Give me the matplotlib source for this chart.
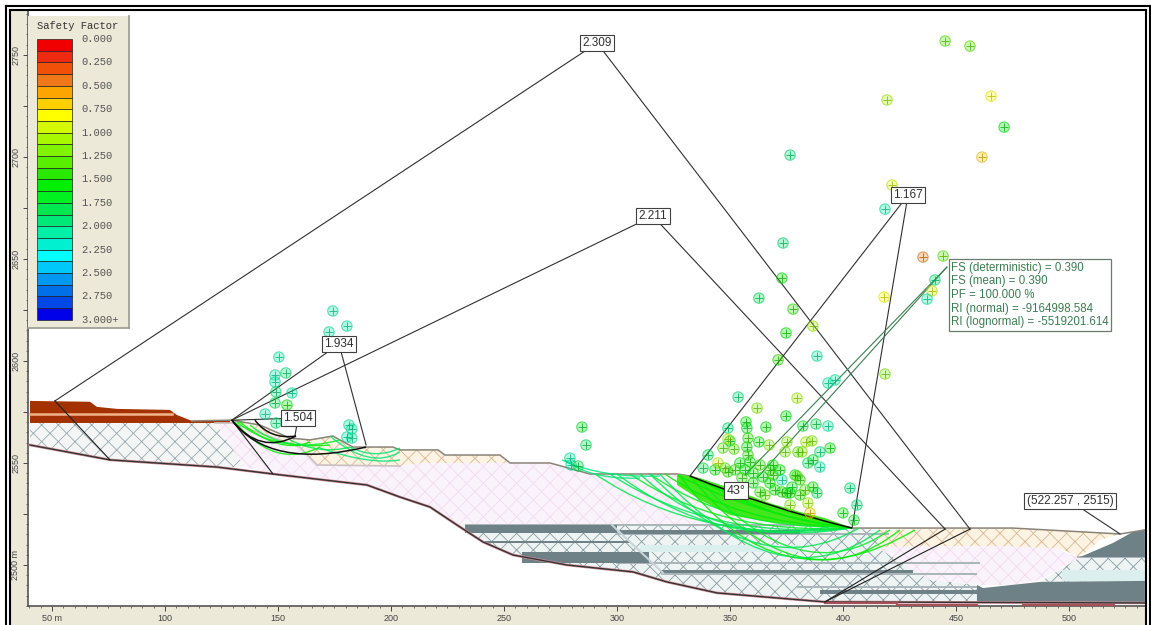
# Slope stability section: safety factor map with slip surfaces

import matplotlib
matplotlib.use("Agg")
import matplotlib.pyplot as plt
from matplotlib.colors import ListedColormap, to_rgb
from matplotlib.lines import Line2D
from matplotlib.patches import PathPatch, Rectangle
from matplotlib.path import Path
from matplotlib.ticker import FuncFormatter, MultipleLocator

plt.rcParams["font.family"] = ["Liberation Sans", "DejaVu Sans"]
plt.rcParams["hatch.linewidth"] = 0.6

# Legend
legend_title = "Safety Factor"
legend_labels = ["0.000", "0.250", "0.500", "0.750", "1.000", "1.250", "1.500",
                 "1.750", "2.000", "2.250", "2.500", "2.750", "3.000+"]
legend_colors = ["#f00000", "#ee2a10", "#f05008", "#f07818", "#fca400", "#ffd000",
                 "#ffff00", "#d4f800", "#a8f800", "#80f400", "#58f000", "#28e800",
                 "#00ee00", "#00f020", "#00e850", "#00e878", "#00f0a8", "#00f0d0",
                 "#00ffff", "#00c8f8", "#0098f0", "#0070e8", "#0048e8", "#0000e8"]

# Ground surface and base of the section
surface_x = [112, 129.6, 142, 155.3, 164.2, 174.3,
             183.2, 200.9, 204, 220.8, 223.9, 248.2, 252.7, 270.4, 288, 326.6, 332.3,
             351.3, 381, 403, 475.2, 522.6, 528.3, 533.6]
surface_y = [2570.6, 2571, 2568.6, 2562.2,
             2561.3, 2563.2, 2557.8, 2557.8, 2556.4, 2556.4, 2553.9, 2553.9, 2550, 2550,
             2544.6, 2544.6, 2543.6, 2536.8, 2522, 2518.1, 2518.1, 2515.2, 2516.2, 2517.2]
base_x = [40.3, 75.7, 123, 147.8, 189.4, 204, 217.3, 229.2, 240.7, 254, 277.9, 307.1,
          322.1, 344.3, 381, 392, 533.6]
base_y = [2558.8, 2551.5, 2548, 2544.6, 2539.2, 2533.3, 2528.4, 2519.6, 2511.3, 2504.9,
          2500, 2496.6, 2491.7, 2486.3, 2482.9, 2481.9, 2481.4]

# Material zones
brown_x = [40.3, 66.8, 69.9, 78.8, 102.2, 105.3, 112, 128.8, 128.8, 40.3]
brown_y = [2580.4, 2580, 2577.5, 2576.5, 2576, 2573.5, 2570.6, 2570.6, 2569.6, 2569.6]
grey_left_x = [40.3, 122.1, 135.4, 123, 75.7, 40.3]
grey_left_y = [2569.6, 2569.6, 2548, 2548, 2551.5, 2558.8]
pink_x = [122.1, 129.6, 159.7, 167.3, 204, 212.8, 270.4, 288, 326.6, 332.3, 351.3, 381,
          384.6, 229.2, 217.3, 204, 189.4, 147.8, 135.4]
pink_y = [2569.6, 2569.6, 2557.8, 2549, 2548.5, 2550, 2550, 2544.6, 2544.6, 2543.6,
          2536.8, 2522, 2519.6, 2519.6, 2528.4, 2533.3, 2539.2, 2544.6, 2548]
tan_left_x = [129.6, 159.7, 167.3, 204, 212.8, 252.7, 248.2, 223.9, 220.8, 204, 200.9,
              183.2, 174.3, 164.2, 155.3, 142]
tan_left_y = [2571, 2557.8, 2549, 2548.5, 2550, 2550, 2553.9, 2553.9, 2556.4, 2556.4,
              2557.8, 2557.8, 2563.2, 2561.3, 2562.2, 2568.6]
grey_mid_x = [229.2, 384.6, 403, 416.4, 415.1, 431, 438.5, 459.3, 459.3, 392, 381, 344.3,
              322.1, 307.1, 277.9, 254, 240.7]
grey_mid_y = [2519.6, 2519.6, 2518.1, 2517.2, 2508.8, 2497.6, 2492.7, 2490.2, 2481.9,
              2481.9, 2482.9, 2486.3, 2491.7, 2496.6, 2500, 2504.9, 2511.3]
tan_right_x = [416.4, 475.2, 522.6, 513.7, 504.9, 497.4, 469.5, 415.1]
tan_right_y = [2517.2, 2518.1, 2515.2, 2512.2, 2503.9, 2507.3, 2509.3, 2508.8]
lens_x = [415.1, 469.5, 494.7, 497.4, 504.9, 487.2, 475.2, 460.6, 438.5, 431]
lens_y = [2508.8, 2509.3, 2508.3, 2506.4, 2503.9, 2492.7, 2490.2, 2490.2, 2492.7, 2497.6]
grey_right_x = [504.9, 533.6, 533.6, 487.2]
grey_right_y = [2503.9, 2503.9, 2492.2, 2491.7]
dark_low_x = [459.3, 462, 487.2, 533.6, 533.6, 459.3]
dark_low_y = [2490.2, 2488.7, 2491.7, 2492.2, 2481.4, 2481.4]
dark_high_x = [504.9, 519.5, 528.3, 533.6, 533.6]
dark_high_y = [2503.9, 2510.8, 2516.2, 2517.2, 2503.9]

# Dark and light strata: left, right, top, bottom
dark_left = [232.8, 301.3, 241.6, 258, 319, 389.8]
dark_right = [300, 381, 305.8, 314, 431, 459.3]
dark_top = [2519.6, 2517.2, 2511.8, 2506.4, 2497.6, 2487.8]
dark_bottom = [2515.7, 2515.2, 2510.8, 2501, 2496.1, 2485.8]
light_left = [310, 497]
light_right = [381, 533.6]
light_top = [2509.8, 2497.6]
light_bottom = [2506.4, 2492.2]

# Thin grey layer boundaries
layer_left = [233, 300, 300, 320, 380, 504]
layer_right = [384, 420, 460, 459, 459, 533]
layer_y = [2519.8, 2515, 2501, 2495.5, 2489, 2503.9]

# Red strips along the base
red_left = [392, 423.9, 479.7]
red_right = [423.9, 459.3, 520]
red_level = [2481.2, 2480.6, 2480.4]

# Bright zone under the main slope
band_x = [326.6, 336.7, 352.2, 367.7, 381, 392, 403, 389.8, 367.7, 350, 336.7, 326.6]
band_y = [2544.6, 2542.6, 2536.8, 2530.3, 2526, 2523, 2518.6, 2518.6, 2521, 2524.5, 2532, 2539.2]

# Slip surfaces: entry, control, exit, safety factor
slip_x0 = [131, 133.2, 131.9, 137.6, 173, 168.6, 181.9, 155.3,
           290.3, 296.9, 305.8, 314.6, 321.2, 327.9, 332.3, 336.7, 319, 314.6, 310.2,
           277, 275.7, 327, 332, 340, 345, 300]
slip_y0 = [2570.1, 2570.1, 2570.1, 2568.6, 2563.2, 2557.3, 2557.8, 2561.3,
           2544.6, 2544.6, 2544.6, 2544.6, 2544.6, 2543.6, 2543.6, 2541.7, 2544.6, 2544.6,
           2544.6, 2551.5, 2551.5, 2544, 2543, 2540, 2538, 2544.6]
slip_cx = [148.7, 150.9, 146.5, 153.1, 190.7, 190.7, 192.9, 168.6,
           336.7, 341.2, 345.6, 350, 354.4, 372, 381, 381, 372.1, 363.3, 345.6,
           288, 292.5, 360, 362, 368, 372, 345]
slip_cy = [2546.6, 2553.9, 2556.4, 2553.9, 2546.6, 2549, 2551.5, 2553.9,
           2509.8, 2512.2, 2514.7, 2517.2, 2519.6, 2478, 2478, 2486, 2480, 2490, 2507.3,
           2541.7, 2542.6, 2525, 2528, 2522, 2521, 2507]
slip_x1 = [168.6, 164.2, 173, 177.4, 204, 204, 204, 181.9,
           403, 403, 403, 402.1, 402.1, 431.9, 425.2, 420.8, 416.4, 407.1, 403,
           310.2, 319, 400, 402, 403, 404, 395]
slip_y1 = [2557.8, 2560.3, 2558.8, 2561.3, 2555.4, 2551.5, 2557.3, 2557.8,
           2518.1, 2518.1, 2518.1, 2518.6, 2518.6, 2517.2, 2517.2, 2517.2, 2517.2, 2518.1,
           2518.1, 2542.6, 2543.6, 2518.6, 2518.5, 2518.5, 2518.3, 2519]
slip_fs = [1.5, 1.55, 1.6, 1.7, 1.9, 1.9, 1.9, 1.8,
           1.75, 1.75, 1.7, 1.7, 1.6, 1.6, 1.55, 1.7, 1.75, 1.85, 1.85,
           1.9, 1.95, 1.5, 1.4, 1.6, 1.5, 1.85]

# Critical surfaces in black
crit_x0 = [129.6, 129.6, 139.8, 332.3]
crit_y0 = [2571, 2571, 2571, 2543.6]
crit_cx = [146.5, 142, 146.5, 367]
crit_cy = [2546.6, 2553.9, 2561.3, 2528]
crit_x1 = [189, 158, 158, 404]
crit_y1 = [2557.8, 2563.2, 2563.2, 2518.1]

# Slip circle centres
center_x = [174.3, 180.5, 172.6, 150.4, 148.7, 153.5, 148.7, 149.1, 156.2, 148.7, 154, 144.3,
            149.1, 181.4, 182.7, 180.5, 182.7, 284.5, 286.3, 279.2, 279.7, 282.8,
            445.2, 456.2, 419.5, 465.5, 471.3, 461.5, 376.6, 421.7, 418.6, 373.5, 435.4,
            444.3, 373, 362.8, 377.9, 418.2, 440.7, 439.4, 437.2, 386.7, 374.8, 371.3,
            388.5, 418.6, 393.4, 396.5, 353.6, 379.7, 362, 374.8, 357.1, 349.1, 357.5,
            365.9, 382.3, 388.1, 393.4, 346.9, 350, 349.1, 358, 362.8, 367.3, 375.2,
            383.6, 386.3, 394.3, 351.8, 357.5, 358, 374.4, 380.1, 381.9, 389.8, 340.3,
            354.4, 344.7, 338.1, 369, 378.8, 373, 364.6, 360.2, 369, 360.2, 367.7, 373,
            376.6, 365.5, 386.7, 384.5, 389.8, 379.7, 386.7, 388.5, 381, 375.2, 403.1,
            406.2, 400, 404.9, 384.5, 385.4, 352.2, 349.1, 356.7, 358.9, 355.3, 347.8,
            343.4, 363.3, 367.7, 372.1, 377.5, 381, 383.2, 369.9, 363.3, 376.6]
center_y = [2624.5, 2617.1, 2614.2, 2601.9, 2593.1, 2594.1, 2589.7, 2584.8, 2584.3, 2579.4,
            2578.4, 2574, 2569.6, 2568.6, 2566.6, 2562.7, 2562.2, 2567.6, 2558.8, 2552.4,
            2549, 2548.5, 2756.8, 2754.3, 2727.9, 2729.8, 2714.6, 2699.9, 2700.9, 2686.2,
            2674.4, 2657.8, 2650.9, 2651.4, 2640.6, 2630.8, 2625.4, 2631.3, 2639.7, 2634.3,
            2630.3, 2617.1, 2613.7, 2600.5, 2602.4, 2593.6, 2589.2, 2590.7, 2582.3, 2581.8,
            2576.9, 2573, 2570.1, 2567.1, 2567.1, 2567.6, 2568.1, 2569.1, 2568.1, 2557.3,
            2560.8, 2561.7, 2562.2, 2560.3, 2558.8, 2560.3, 2560.3, 2560.8, 2557.3, 2556.8,
            2557.8, 2553.9, 2555.4, 2555.4, 2555.4, 2555.4, 2553.9, 2550, 2550, 2547.5,
            2549, 2544.1, 2541.7, 2543.1, 2545.1, 2544.1, 2540.2, 2540.2, 2535.8, 2535.3,
            2534.3, 2551.5, 2550, 2548, 2543.6, 2538.2, 2535.3, 2534.3, 2535.3, 2537.7,
            2529.4, 2525.5, 2522, 2530.4, 2525.5, 2546.6, 2545.6, 2546.6, 2550.5, 2542.6,
            2547.5, 2546.6, 2549, 2546.6, 2546.6, 2538.2, 2541.7, 2536.8, 2536.8, 2535.8,
            2529.4]
center_fs = [2.0, 2.0, 2.0, 2.0, 2.0, 1.9, 2.0, 1.9, 2.0, 1.8, 1.5, 2.0, 1.9, 2.1, 2.1, 2.0,
             2.0, 1.7, 1.8, 2.0, 2.0, 1.8, 1.25, 1.35, 1.0, 0.8, 1.5, 0.7, 1.9, 0.9, 2.0,
             1.9, 0.45, 1.3, 1.5, 1.8, 1.4, 0.8, 1.9, 0.9, 2.0, 1.1, 1.5, 1.4, 2.0, 1.2,
             2.0, 2.0, 1.9, 1.1, 1.2, 1.5, 1.6, 1.9, 1.7, 1.6, 1.7, 1.8, 2.0, 1.3, 1.7,
             1.0, 1.45, 1.5, 1.2, 1.2, 1.1, 1.15, 1.5, 1.3, 1.5, 1.45, 1.15, 1.25, 1.2,
             1.9, 1.8, 1.5, 0.9, 1.8, 1.6, 1.6, 2.1, 1.5, 1.5, 1.4, 1.6, 1.5, 1.4, 1.5,
             1.3, 1.7, 1.75, 2.0, 1.3, 1.6, 1.8, 1.4, 1.6, 1.9, 1.9, 1.6, 1.7, 1.1, 0.7,
             1.45, 1.4, 1.5, 1.5, 1.4, 1.3, 1.6, 1.4, 1.4, 1.6, 1.7, 1.45, 1.35, 1.5, 1.4,
             1.15]

# Result boxes and the construction lines behind them
result_labels = ["2.309", "2.211", "1.934", "1.504", "1.167"]
result_x = [291.2, 315.9, 177, 158.9, 428.8]
result_y = [2755.8, 2671, 2608.3, 2572, 2681.3]
result_left_x = [51.3, 129.6, 129.6, 130.5, 332.3]
result_left_y = [2580.4, 2571, 2571, 2571, 2543.6]
result_right_x = [456.2, 445.2, 189, 157.5, 404]
result_right_y = [2517.6, 2517.6, 2558.8, 2563.2, 2518.1]

# Extra construction lines, drawn down into the section
radius_x0 = [51.3, 129.6, 456.2, 445.2]
radius_y0 = [2580.4, 2571, 2517.6, 2517.6]
radius_x1 = [75.7, 147.8, 392, 392]
radius_y1 = [2551.5, 2544.6, 2481.9, 2481.9]

# Texts
info_lines = ["FS (deterministic) = 0.390", "FS (mean) = 0.390", "PF = 100.000 %",
              "RI (normal) = -9164998.584", "RI (lognormal) = -5519201.614"]
info_leader_x = [446, 356.7, 446, 362]
info_leader_y = [2646, 2544.1, 2646, 2542.6]

BEIGE = "#ece9d8"
DARK = "#6d8186"
W, H = 1151, 625

fig = plt.figure(figsize=(W / 100, H / 100), dpi=100, facecolor="white")

# Grey ruler strips
fig.add_artist(Rectangle((11 / W, 0), 17 / W, 1 - 11 / H, transform=fig.transFigure,
                         facecolor=BEIGE, edgecolor="none", zorder=-1))
fig.add_artist(Rectangle((11 / W, 0), 1134 / W, 19 / H, transform=fig.transFigure,
                         facecolor=BEIGE, edgecolor="none", zorder=-1))

ax = fig.add_axes([28 / W, 19 / H, 1117 / W, 596 / H])
ax.set_xlim(39.4, 533.65)
ax.set_ylim(2479.9, 2772)
ax.set_facecolor("white")
for side in ["top", "right"]:
    ax.spines[side].set_visible(False)
for side in ["left", "bottom"]:
    ax.spines[side].set_color("#555555")
    ax.spines[side].set_linewidth(1.2)

# Rulers
ax.xaxis.set_major_locator(MultipleLocator(50))
ax.xaxis.set_minor_locator(MultipleLocator(5))
ax.yaxis.set_major_locator(MultipleLocator(25))
ax.yaxis.set_minor_locator(MultipleLocator(5))
ax.xaxis.set_major_formatter(FuncFormatter(lambda v, p: "50 m" if v == 50 else f"{v:.0f}"))
ax.yaxis.set_major_formatter(FuncFormatter(
    lambda v, p: "" if v % 50 else ("2500 m" if v == 2500 else f"{v:.0f}")))
ax.tick_params(which="major", length=3.5, width=0.7, color="#444444", labelsize=6.5,
               labelcolor="#444444", pad=2)
ax.tick_params(which="minor", length=1.5, width=0.6, color="#555555")
for label in ax.get_yticklabels():
    label.set_rotation(90)
    label.set_va("center")

# Material zones
ax.fill(pink_x, pink_y, facecolor="#fbf3fb", edgecolor="#f0dcee", hatch="xx", linewidth=0, zorder=1)
ax.fill(grey_left_x, grey_left_y, facecolor="#f4f6f6", edgecolor="#9aa8ac", hatch="xx", linewidth=0, zorder=1)
ax.fill(grey_mid_x, grey_mid_y, facecolor="#eef3f3", edgecolor="#8a9ca0", hatch="xx", linewidth=0, zorder=1)
ax.fill(grey_right_x, grey_right_y, facecolor="#eef3f3", edgecolor="#8a9ca0", hatch="xx", linewidth=0, zorder=1)
ax.fill(tan_left_x, tan_left_y, facecolor="#fdf3e2", edgecolor="#d5b894", hatch="xx", linewidth=0, zorder=1)
ax.fill(tan_right_x, tan_right_y, facecolor="#fdf3e2", edgecolor="#d5b894", hatch="xx", linewidth=0, zorder=1)
ax.fill(lens_x, lens_y, facecolor="#fbf3fb", edgecolor="#f0dcee", hatch="xx", linewidth=0, zorder=1)
ax.fill(brown_x, brown_y, color="#a33200", linewidth=0, zorder=2)
ax.plot([40.3, 103], [2574.2, 2574.2], color="#f2b48c", linewidth=1.8, zorder=3)
ax.plot(pink_x[:5], pink_y[:5], color="#c8c0c0", linewidth=1.2, zorder=3)

for l, r, t, b in zip(light_left, light_right, light_top, light_bottom):
    ax.fill([l, r, r, l], [t, t, b, b], color="#dcefef", linewidth=0, zorder=2)
for l, r, y in zip(layer_left, layer_right, layer_y):
    ax.plot([l, r], [y, y], color="#a9b5b8", linewidth=1.4, zorder=2)
for l, r, t, b in zip(dark_left, dark_right, dark_top, dark_bottom):
    ax.fill([l, r, r, l], [t, t, b, b], color=DARK, linewidth=0, zorder=2)
ax.fill(dark_low_x, dark_low_y, color=DARK, linewidth=0, zorder=2)
ax.fill(dark_high_x, dark_high_y, color=DARK, linewidth=0, zorder=2)
ax.plot([297.8, 320.4], [2519.6, 2496.1], color="#c8d4d8", linewidth=1.5, zorder=3)

# Ground surface and base lines
ax.plot(surface_x, surface_y, color="#8a8478", linewidth=1.1, zorder=4)
ax.plot(base_x, base_y, color="#d09098", linewidth=1.9, zorder=4)
ax.plot(base_x, base_y, color="#333333", linewidth=1.0, zorder=4)
for l, r, y in zip(red_left, red_right, red_level):
    ax.plot([l, r], [y, y], color="#a85058", linewidth=1.6, zorder=4)

cmap = ListedColormap(legend_colors)


def fs_color(fs):
    return cmap(min(fs / 3.0, 0.999))


# Slip surfaces
ax.fill(band_x, band_y, color="#44e61e", linewidth=0, zorder=5)
for x0, y0, cx, cy, x1, y1, fs in zip(slip_x0, slip_y0, slip_cx, slip_cy, slip_x1, slip_y1, slip_fs):
    path = Path([(x0, y0), (cx, cy), (x1, y1)], [Path.MOVETO, Path.CURVE3, Path.CURVE3])
    ax.add_patch(PathPatch(path, facecolor="none", edgecolor=fs_color(fs), linewidth=1.0, alpha=0.85, zorder=5))
for x0, y0, cx, cy, x1, y1 in zip(crit_x0, crit_y0, crit_cx, crit_cy, crit_x1, crit_y1):
    path = Path([(x0, y0), (cx, cy), (x1, y1)], [Path.MOVETO, Path.CURVE3, Path.CURVE3])
    ax.add_patch(PathPatch(path, facecolor="none", edgecolor="#101010", linewidth=1.1, zorder=7))

# Construction lines
for lx, ly, bx, by, rx, ry in zip(result_left_x, result_left_y, result_x, result_y, result_right_x, result_right_y):
    ax.plot([lx, bx, rx], [ly, by, ry], color="#303030", linewidth=0.8, zorder=6)
for x0, y0, x1, y1 in zip(radius_x0, radius_y0, radius_x1, radius_y1):
    ax.plot([x0, x1], [y0, y1], color="#202020", linewidth=0.8, zorder=6)
ax.plot(info_leader_x[:2], info_leader_y[:2], color="#3d7d52", linewidth=0.8, zorder=6)
ax.plot(info_leader_x[2:], info_leader_y[2:], color="#3d7d52", linewidth=0.8, zorder=6)
ax.plot([500.5, 522.6], [2531.4, 2515.2], color="#303030", linewidth=0.8, zorder=6)

# Slip circle centres, a pale disc with a cross
face = [to_rgb(fs_color(fs)) + (0.3,) for fs in center_fs]
edge = [tuple(c * 0.85 for c in to_rgb(fs_color(fs))) + (0.6,) for fs in center_fs]
cross = [tuple(c * 0.7 for c in to_rgb(fs_color(fs))) + (0.75,) for fs in center_fs]
ax.scatter(center_x, center_y, s=56, c=face, edgecolors=edge, linewidths=0.8, zorder=8)
ax.scatter(center_x, center_y, s=36, marker="+", c=cross, linewidths=0.7, zorder=8)

# Result boxes
box = dict(boxstyle="square,pad=0.2", facecolor="white", edgecolor="#404040", linewidth=0.8)
for text, x, y in zip(result_labels, result_x, result_y):
    ax.text(x, y, text, fontsize=8.5, color="#303030", ha="center", va="center", bbox=box, zorder=10)
ax.text(352.7, 2536.3, "43°", fontsize=9, color="#303030", ha="center", va="center", bbox=box, zorder=10)
ax.text(500.5, 2531.4, "(522.257 , 2515)", fontsize=8.5, color="#303030", ha="center", va="center",
        bbox=box, zorder=10)
ax.text(447.8, 2632.3, "\n".join(info_lines), fontsize=8.3, color="#3d7d52", ha="left", va="center",
        linespacing=1.18, zorder=10,
        bbox=dict(boxstyle="square,pad=0.2", facecolor="white", edgecolor="#6b7b70", linewidth=0.9))

# Legend panel
leg = fig.add_axes([28 / W, 1 - 328 / H, 101 / W, 312 / H])
leg.set_xlim(0, 101)
leg.set_ylim(24.7, -1.97)
leg.set_facecolor(BEIGE)
leg.set_xticks([])
leg.set_yticks([])
for side in ["top", "left"]:
    leg.spines[side].set_visible(False)
for side in ["right", "bottom"]:
    leg.spines[side].set_color("#9a9a90")
    leg.spines[side].set_linewidth(1.2)
leg.barh(range(24), [35] * 24, left=9, height=1, color=legend_colors, edgecolor="#202020", linewidth=0.5,
         align="edge")
leg.text(50, -1.15, legend_title, family="Liberation Mono", fontsize=7.6, color="#333333", ha="center", va="center")
for i, text in enumerate(legend_labels):
    leg.text(53, i * 2, text, family="Liberation Mono", fontsize=7.6, color="#555555", ha="left", va="center")

# Double black frame
for x0, y0, x1, y1 in [(6, 6, 1150, 6), (10, 10, 1146, 10), (6, 6, 6, 625), (10, 10, 10, 625),
                       (1146, 10, 1146, 625), (1150, 6, 1150, 625)]:
    fig.add_artist(Line2D([x0 / W, x1 / W], [1 - y0 / H, 1 - y1 / H], color="black", linewidth=1.5,
                          transform=fig.transFigure, zorder=10))

fig.savefig("out.png", dpi=100)
